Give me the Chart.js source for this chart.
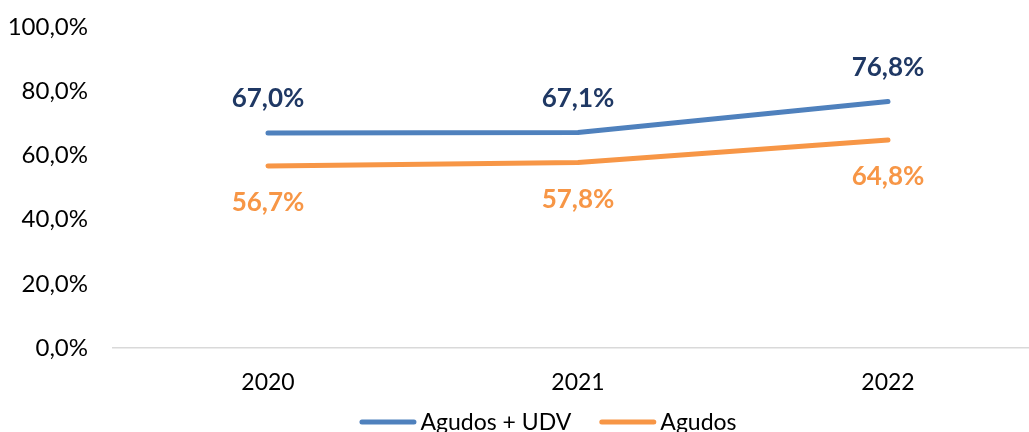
<!DOCTYPE html>
<html>
<head>
<meta charset="utf-8">
<script src="https://cdn.jsdelivr.net/npm/chart.js@4/dist/chart.umd.min.js"></script>
<style>
  html, body { margin: 0; padding: 0; background: #fff; overflow: hidden; width: 1029px; height: 432px; }
  #wrap { position: absolute; left: 0; top: 0; width: 1096px; height: 432px; }
</style>
</head>
<body>
<div id="wrap"><canvas id="c" width="1096" height="432"></canvas></div>
<script>
// Years on the category axis
const years = ['2020', '2021', '2022'];
// Share per year (%)
const agudosUdv = [67.0, 67.1, 76.8];
const agudos = [56.7, 57.8, 64.8];
// Value axis ticks (%)
const yTicks = [0, 20, 40, 60, 80, 100];

const fmt = v => v.toFixed(1).replace('.', ',') + '%';
const FONT = 'Lato, "Open Sans", sans-serif';

// Draws each point's value above or below the line
const valueLabels = {
  id: 'valueLabels',
  afterDatasetsDraw(chart) {
    const ctx = chart.ctx;
    chart.data.datasets.forEach((ds, i) => {
      const meta = chart.getDatasetMeta(i);
      ctx.save();
      ctx.font = 'bold 26px ' + FONT;
      ctx.fillStyle = ds.labelColor;
      ctx.textAlign = 'center';
      ctx.textBaseline = 'middle';
      meta.data.forEach((pt, j) => {
        ctx.fillText(fmt(ds.data[j]), pt.x, pt.y + ds.labelOffset);
      });
      ctx.restore();
    });
  }
};

// Line-sample legend centred under the chart
const lineLegend = {
  id: 'lineLegend',
  afterDraw(chart) {
    const ctx = chart.ctx;
    const cfg = chart.options.plugins.lineLegend;
    ctx.save();
    ctx.font = cfg.size + 'px ' + FONT;
    const items = chart.data.datasets.map(ds => ({
      text: ds.label, color: ds.borderColor, w: ctx.measureText(ds.label).width
    }));
    const total = items.reduce((s, it) => s + cfg.sample + cfg.textGap + it.w, 0) + cfg.itemGap * (items.length - 1);
    let x = cfg.centerX - total / 2;
    ctx.textBaseline = 'middle';
    ctx.textAlign = 'left';
    items.forEach(it => {
      ctx.strokeStyle = it.color;
      ctx.lineWidth = 5;
      ctx.lineCap = 'round';
      ctx.beginPath();
      ctx.moveTo(x + 2.5, cfg.lineY);
      ctx.lineTo(x + cfg.sample - 2.5, cfg.lineY);
      ctx.stroke();
      x += cfg.sample + cfg.textGap;
      ctx.fillStyle = '#000';
      ctx.fillText(it.text, x, cfg.textY);
      x += it.w + cfg.itemGap;
    });
    ctx.restore();
  }
};

new Chart(document.getElementById('c'), {
  type: 'line',
  data: {
    labels: years,
    datasets: [
      {
        label: 'Agudos + UDV',
        data: agudosUdv,
        borderColor: '#4F81BD',
        backgroundColor: '#4F81BD',
        borderWidth: 5,
        borderCapStyle: 'round',
        borderJoinStyle: 'round',
        pointRadius: 0,
        tension: 0,
        labelColor: '#1F3864',
        labelOffset: -34
      },
      {
        label: 'Agudos',
        data: agudos,
        borderColor: '#F79646',
        backgroundColor: '#F79646',
        borderWidth: 5,
        borderCapStyle: 'round',
        borderJoinStyle: 'round',
        pointRadius: 0,
        tension: 0,
        labelColor: '#F79646',
        labelOffset: 37
      }
    ]
  },
  options: {
    responsive: false,
    animation: false,
    layout: { padding: { top: 27, right: 53, left: 0, bottom: 35 } },
    scales: {
      x: {
        offset: true,
        grid: { display: false, drawTicks: false },
        border: { display: true, color: '#D9D9D9', width: 1.5 },
        ticks: { color: '#000', font: { family: FONT, size: 23 }, padding: 21 },
        afterFit(scale) { scale.height = 49; scale.paddingLeft = 0; scale.paddingRight = 0; }
      },
      y: {
        min: 0,
        max: 100,
        afterBuildTicks(scale) { scale.ticks = yTicks.map(v => ({ value: v })); },
        grid: { display: false, drawTicks: false },
        border: { display: false },
        ticks: { color: '#000', font: { family: FONT, size: 24 }, padding: 25, callback: v => fmt(v) },
        afterFit(scale) { scale.width = 113; scale.paddingTop = 0; scale.paddingBottom = 0; }
      }
    },
    plugins: {
      legend: { display: false },
      tooltip: { enabled: false },
      lineLegend: { centerX: 548, lineY: 422, textY: 423, size: 23, sample: 57, textGap: 4, itemGap: 28 }
    }
  },
  plugins: [valueLabels, lineLegend]
});
</script>
</body>
</html>
